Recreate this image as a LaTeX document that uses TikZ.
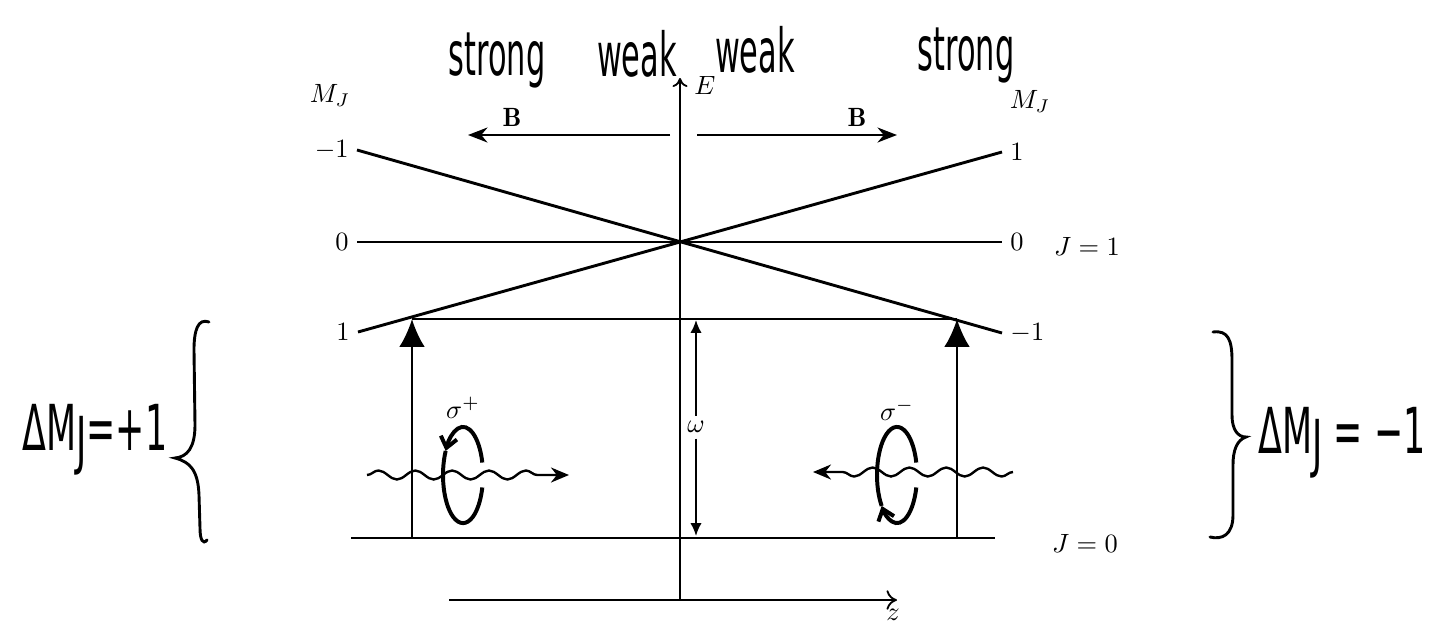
\documentclass[tikz,border=0pt]{standalone}
\usepackage{fontspec}
\usepackage{amsmath}
\usepackage{tikz}
\usetikzlibrary{arrows.meta, positioning, decorations.pathmorphing, calc}
\newfontfamily\handfont[FakeStretch=0.5]{DejaVu Sans}
\newfontfamily\handthin[FakeStretch=0.55]{DejaVu Sans}

\begin{document}
\begin{tikzpicture}[x=0.0133cm, y=-0.0133cm,
			level/.style={line width=1.1pt},
			axisline/.style={line width=0.7pt},
			lbl/.style={inner sep=3pt},
			hand/.style={anchor=base, inner sep=0pt, font={\handfont\fontsize{23}{23}\selectfont}},
			handlbl/.style={anchor=base west, inner sep=0pt, font={\handthin\fontsize{24}{24}\selectfont}},
			pump/.style={line width=0.9pt, -{Latex[length=0.37cm, width=0.34cm]}},
			warr/.style={line width=0.8pt, -{Latex[length=0.17cm, width=0.15cm]}},
			barr/.style={line width=0.8pt, -{Stealth[length=0.26cm, width=0.2cm]}},
			wave/.style={line width=0.9pt, decorate, decoration={snake, segment length=0.49cm, amplitude=0.06cm, post length=0.2cm}, -{Stealth[length=0.24cm, width=0.2cm]}},
			loopln/.style={line width=1.5pt},
			bracecurve/.style={line width=1.1pt, line cap=round}
		]
		\useasboundingbox (0,0) rectangle (1429,627);
		% handwritten notes
		\node[hand] (sl) at (497,75) {strong};
		\node[hand] (wl) at (637,76) {weak};
		\node[hand] (wr) at (755,72) {weak};
		\node[hand] (sr) at (966,70) {strong};
		
		% axes
		\coordinate (eb) at (680,600);
		\coordinate (et) at (680,78);
		\coordinate (zl) at (449,600);
		\coordinate (zr) at (897,600);
		\draw[axisline, -{To[length=0.12cm, width=0.2cm]}] (eb) -- (et);
		\draw[axisline, -{To[length=0.14cm, width=0.26cm]}] (zl) -- (zr);
		\node[lbl] (elab) at (705,85) {$E$};
		\node[lbl] (zlab) at (893,615) {$z$};
		\node[lbl] (mjl) at (330,95) {$M_J$};
		\node[lbl] (mjr) at (1030,101) {$M_J$};
		
		% field direction
		\coordinate (bl1) at (670,135);
		\coordinate (bl2) at (468,135);
		\coordinate (br1) at (697,135);
		\coordinate (br2) at (897,135);
		\draw[barr] (bl1) -- (bl2);
		\draw[barr] (br1) -- (br2);
		\node[lbl] (blab) at (512,117) {$\mathbf{B}$};
		\node[lbl] (brlab) at (857,117) {$\mathbf{B}$};
		
		% J = 1 sublevels
		\node[lbl, anchor=east] (lm1) at (357,150) {$-1$};
		\node[lbl, anchor=east] (l0) at (357,242) {$0$};
		\node[lbl, anchor=east] (lp1) at (358,332) {$1$};
		\node[lbl, anchor=west] (rp1) at (1002,152) {$1$};
		\node[lbl, anchor=west] (r0) at (1002,242) {$0$};
		\node[lbl, anchor=west] (rm1) at (1002,333) {$-1$};
		\draw[level] (lm1.east) -- (rm1.west);
		\draw[level] (l0.east) -- (r0.west);
		\draw[level] (lp1.east) -- (rp1.west);
		\node[lbl] (j1) at (1087,246) {$J=1$};
		
		% J = 0 level
		\coordinate (g0l) at (351,538);
		\coordinate (g0r) at (995,538);
		\draw[level] (g0l) -- (g0r);
		\node[lbl] (j0) at (1085,543) {$J=0$};
		
		% transitions
		\coordinate (gl) at (412,538);
		\coordinate (tl) at (412,319);
		\coordinate (gr) at (957,538);
		\coordinate (tr) at (957,319);
		\draw[line width=0.5pt] (tl) -- (tr);
		\draw[pump] (gl) -- (tl);
		\draw[pump] (gr) -- (tr);
		\node[lbl, fill=white, inner sep=2pt] (om) at (696,427) {$\omega$};
		\coordinate (wtop) at (696,320);
		\coordinate (wbot) at (696,536);
		\draw[warr] (om) -- (wtop);
		\draw[warr] (om) -- (wbot);
		
		% photons
		\coordinate (pl1) at (367,475);
		\coordinate (pl2) at (569,475);
		\coordinate (pr1) at (1013,472);
		\coordinate (pr2) at (813,472);
		\draw[wave] (pl1) -- (pl2);
		\draw[wave] (pr1) -- (pr2);
		
		% polarisation loops
		\coordinate (cp) at (463,475);
		\coordinate (cm) at (897,475);
		\draw[loopln, -{Straight Barb[length=0.14cm, width=0.22cm]}] ($(cp)+(15:0.266cm and 0.64cm)$) arc[start angle=15, end angle=150, x radius=0.266cm, y radius=0.64cm];
		\draw[loopln] ($(cp)+(150:0.266cm and 0.64cm)$) arc[start angle=150, end angle=345, x radius=0.266cm, y radius=0.64cm];
		\draw[loopln, -{Straight Barb[length=0.14cm, width=0.22cm]}] ($(cm)+(-15:0.266cm and 0.64cm)$) arc[start angle=-15, end angle=-140, x radius=0.266cm, y radius=0.64cm];
		\draw[loopln] ($(cm)+(-140:0.266cm and 0.64cm)$) arc[start angle=-140, end angle=-345, x radius=0.266cm, y radius=0.64cm];
		\node[lbl] (sp) at (463,408) {$\sigma^+$};
		\node[lbl] (sm) at (897,410) {$\sigma^-$};
		
		% braces
		\draw[bracecurve] (209,322) .. controls (198,318) and (194,330) .. (194,350) -- (195,425) .. controls (195,448) and (187,457) .. (175,458) .. controls (190,462) and (198,470) .. (199,495) -- (200,528) .. controls (200,540) and (203,545) .. (207,540);
		\draw[bracecurve] (1213,332) .. controls (1228,330) and (1232,340) .. (1232,360) -- (1232,415) .. controls (1232,430) and (1238,437) .. (1246,437) .. controls (1237,440) and (1233,450) .. (1233,465) -- (1233,515) .. controls (1233,535) and (1222,540) .. (1210,537);
		\node[handlbl] (dpl) at (22,450) {ΔM\raisebox{-0.35ex}{J}=+1};
		\node[handlbl] (dmi) at (1258,453) {ΔM\raisebox{-0.35ex}{J} = −1};
		\end{tikzpicture}
\end{document}
